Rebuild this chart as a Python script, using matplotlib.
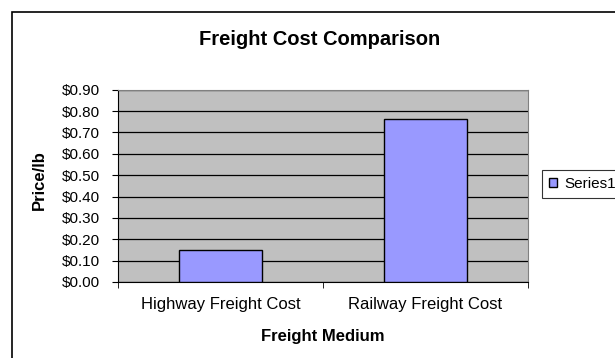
import matplotlib.pyplot as plt
from matplotlib.patches import Rectangle
from matplotlib.ticker import FuncFormatter

plt.rcParams['font.family'] = ['Liberation Sans', 'DejaVu Sans']

# data
categories = ['Highway Freight Cost', 'Railway Freight Cost']
prices = [0.15, 0.765]
series_name = 'Series1'
yticks = [0.0, 0.1, 0.2, 0.3, 0.4, 0.5, 0.6, 0.7, 0.8, 0.9]

W, H = 615, 358
fig = plt.figure(figsize=(W / 100, H / 100), dpi=100)

# chart border (runs off the right and bottom edge, like the screenshot)
fig.patches.append(Rectangle((12/W, -0.1), 1.2, 1 - 12/H + 0.1,
                             transform=fig.transFigure, fill=False,
                             edgecolor='black', linewidth=1.2))

ax = fig.add_axes([118/W, 1 - 282/H, 410/W, 192.3/H])
ax.set_facecolor('#C0C0C0')

x = list(range(len(categories)))
ax.bar(x, prices, width=0.406, color='#9999FF', edgecolor='black',
       linewidth=1, label=series_name, zorder=3)

ax.set_ylim(0, 0.9)
ax.set_xlim(-0.5, 1.5)
ax.set_yticks(yticks)
ax.yaxis.set_major_formatter(FuncFormatter(lambda v, p: '${:.2f}'.format(v)))
ax.yaxis.grid(True, color='black', linewidth=0.9, zorder=1)
ax.set_axisbelow(True)

ax.set_xticks(x)
ax.set_xticklabels(categories)
ax.set_xticks([-0.5, 0.5, 1.5], minor=True)
ax.tick_params(axis='x', which='major', length=0, pad=11, labelsize=12)
ax.tick_params(axis='x', which='minor', length=4, direction='out')
ax.tick_params(axis='y', length=4, direction='out', pad=9, labelsize=11)

for s in ['top', 'right']:
    ax.spines[s].set_color('#808080')
for s in ['left', 'bottom']:
    ax.spines[s].set_color('black')

fig.text(322.5/W, 1 - 341/H, 'Freight Medium', ha='center', va='baseline',
         fontsize=12, fontweight='bold')
fig.text(39/W, 1 - 180/H, 'Price/lb', ha='center', va='center',
         rotation=90, fontsize=12, fontweight='bold')
fig.text(320/W, 1 - 45/H, 'Freight Cost Comparison', ha='center',
         va='baseline', fontsize=14.5, fontweight='bold')

leg = fig.legend(loc='center left', bbox_to_anchor=(541.7/W, 1 - 184/H),
                 frameon=True, fancybox=False, fontsize=11,
                 handlelength=0.55, handleheight=0.55, handletextpad=0.5,
                 borderpad=0.45, borderaxespad=0)
leg.get_frame().set_edgecolor('black')
leg.get_frame().set_linewidth(0.8)

fig.savefig('out.png', dpi=100)
